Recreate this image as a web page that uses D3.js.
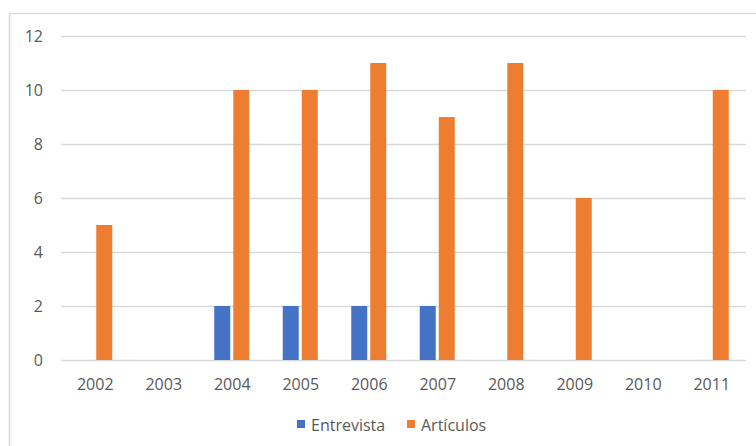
<!DOCTYPE html>
<html><head><meta charset="utf-8">
<script src="https://cdn.jsdelivr.net/npm/d3@7"></script>
<style>body{margin:0;background:#fff}svg{display:block}text{font-family:"Open Sans","Noto Sans",sans-serif}</style>
</head><body>
<script>
const categories = ["2002","2003","2004","2005","2006","2007","2008","2009","2010","2011"];
const seriesNames = ["Entrevista","Artículos"];
const entrevista = [0,0,2,2,2,2,0,0,0,0];
const articulos = [5,0,10,10,11,9,11,6,0,10];
const yTicks = [0,2,4,6,8,10,12];
const colors = ["#4472C4","#ED7D31"];

(function(){
const W=756,H=446,FS="16px";
const svg=d3.select("body").append("svg").attr("width",W).attr("height",H);
svg.append("rect").attr("x",9.5).attr("y",13.5).attr("width",W).attr("height",H).attr("fill","#fff").attr("stroke","#D9D9D9").attr("stroke-width",1.5);

const pLeft=61,pRight=746,pTop=36,pBottom=360;
const x0=d3.scaleBand().domain(categories).range([pLeft,pRight]).padding(0);
const y=d3.scaleLinear().domain([0,12]).range([pBottom,pTop]);

const grid=svg.append("g").attr("class","y-axis")
  .attr("transform",`translate(${pLeft},0)`)
  .call(d3.axisLeft(y).tickValues(yTicks).tickSize(-(pRight-pLeft)).tickFormat(d3.format("d")));
grid.select(".domain").remove();
grid.selectAll(".tick line").attr("stroke","#D9D9D9").attr("stroke-width",1.5);
grid.selectAll(".tick text").attr("x",-18).attr("fill","#595959").style("font-size",FS);

const xa=svg.append("g").attr("transform",`translate(0,${pBottom})`)
  .call(d3.axisBottom(x0).tickSize(0).tickPadding(19));
xa.select(".domain").remove();
xa.selectAll("text").attr("fill","#595959").style("font-size",FS);

const groupW=35;
const x1=d3.scaleBand().domain(seriesNames).range([0,groupW]).paddingInner(0.16);
const data=categories.map((c,i)=>({cat:c,vals:[entrevista[i],articulos[i]]}));
const g=svg.append("g");
data.forEach(d=>{
  const gx=x0(d.cat)+x0.bandwidth()/2-groupW/2-0.5;
  d.vals.forEach((v,j)=>{
    if(v<=0) return;
    g.append("rect").attr("x",gx+x1(seriesNames[j])).attr("width",x1.bandwidth())
      .attr("y",y(v)).attr("height",y(0)-y(v)).attr("fill",colors[j]);
  });
});

const leg=svg.append("g");
const items=[{n:seriesNames[0],c:colors[0],x:297},{n:seriesNames[1],c:colors[1],x:407}];
items.forEach(it=>{
  leg.append("rect").attr("x",it.x).attr("y",420).attr("width",8).attr("height",8).attr("fill",it.c);
  leg.append("text").attr("x",it.x+14).attr("y",430.5).attr("fill","#595959").style("font-size",FS).text(it.n);
});
})();
</script>
</body></html>
